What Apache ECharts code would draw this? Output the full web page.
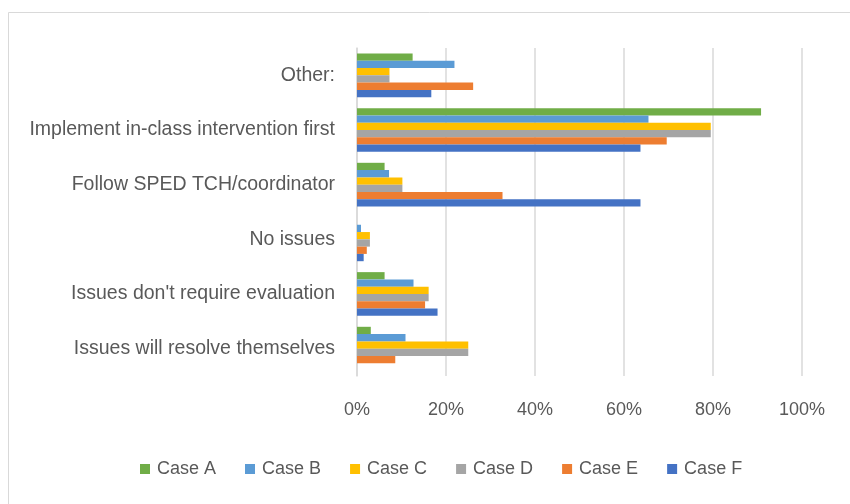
<!DOCTYPE html>
<html>
<head>
<meta charset="utf-8">
<script src="https://cdn.jsdelivr.net/npm/echarts@6/dist/echarts.min.js"></script>
<style>
  html, body { margin: 0; padding: 0; background: #fff; }
  #chart { width: 850px; height: 504px; }
</style>
</head>
<body>
<div id="chart"></div>
<script>
// categories, top to bottom
const categories = [
  'Other:',
  'Implement in-class intervention first',
  'Follow SPED TCH/coordinator',
  'No issues',
  "Issues don't require evaluation",
  'Issues will resolve themselves'
]

const seriesNames = ['Case A', 'Case B', 'Case C', 'Case D', 'Case E', 'Case F']
const seriesColors = ['#70AD47', '#5B9BD5', '#FFC000', '#A5A5A5', '#ED7D31', '#4472C4']

// values in percent, same order as categories
const caseA = [12.5, 90.8, 6.2, 0, 6.2, 3.1]
const caseB = [21.9, 65.5, 7.2, 0.9, 12.7, 10.9]
const caseC = [7.3, 79.5, 10.2, 2.9, 16.1, 25.0]
const caseD = [7.3, 79.5, 10.2, 2.9, 16.1, 25.0]
const caseE = [26.1, 69.6, 32.7, 2.2, 15.3, 8.6]
const caseF = [16.7, 63.7, 63.7, 1.5, 18.1, 0]

const xTicks = ['0%', '20%', '40%', '60%', '80%', '100%']

const allData = [caseA, caseB, caseC, caseD, caseE, caseF]
const font = '"Liberation Sans", Arial, sans-serif'

const chart = echarts.init(document.getElementById('chart'))

const option = {
  animation: false,
  backgroundColor: '#fff',
  graphic: [
    {
      type: 'rect',
      shape: { x: 8.5, y: 12.5, width: 900, height: 600 },
      style: { fill: 'none', stroke: '#d9d9d9', lineWidth: 1 },
      silent: true
    }
  ],
  grid: {
    left: 357,
    right: 48,
    top: 48,
    bottom: 128
  },
  legend: {
    data: seriesNames,
    left: 135,
    top: 455,
    itemWidth: 10,
    itemHeight: 10,
    itemGap: 29,
    icon: 'rect',
    textStyle: {
      color: '#595959',
      fontSize: 18,
      fontFamily: font,
      padding: [0, 0, 0, 2]
    }
  },
  xAxis: {
    type: 'value',
    min: 0,
    max: 100,
    interval: 20,
    axisLine: { show: false },
    axisTick: { show: false },
    splitLine: { lineStyle: { color: '#d9d9d9', width: 1.5 } },
    axisLabel: {
      color: '#595959',
      fontSize: 18,
      fontFamily: font,
      margin: 25,
      formatter: (v) => xTicks[Math.round(v / 20)]
    }
  },
  yAxis: {
    type: 'category',
    inverse: true,
    data: categories,
    axisLine: { show: true, lineStyle: { color: '#d9d9d9', width: 1.5 } },
    axisTick: { show: false },
    axisLabel: {
      color: '#595959',
      fontSize: 19.5,
      fontFamily: font,
      margin: 22
    }
  },
  series: seriesNames.map((name, i) => ({
    name: name,
    type: 'bar',
    data: allData[i],
    barGap: '0%',
    barCategoryGap: '20%',
    itemStyle: { color: seriesColors[i] }
  }))
}

chart.setOption(option)
</script>
</body>
</html>
